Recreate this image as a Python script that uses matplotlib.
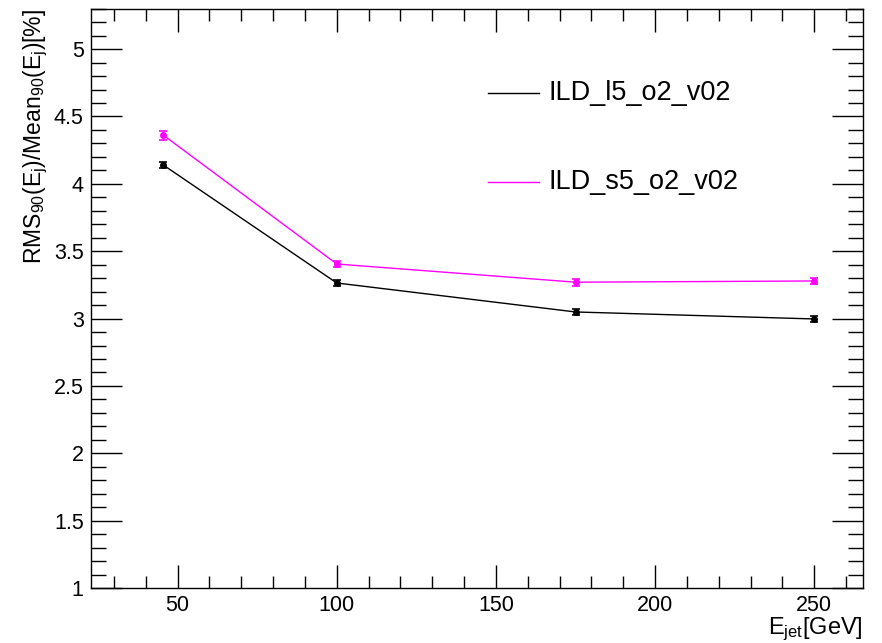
import matplotlib
matplotlib.use('Agg')
import matplotlib.pyplot as plt
from matplotlib.ticker import MultipleLocator

plt.rcParams['font.family'] = ['Liberation Sans', 'DejaVu Sans']
plt.rcParams['mathtext.fontset'] = 'custom'
plt.rcParams['mathtext.rm'] = 'Liberation Sans'
plt.rcParams['mathtext.it'] = 'Liberation Sans'

# jet energies and resolution for the two detector models
e_jet = [45.5, 100, 175, 250]
res_l5 = [4.14, 3.264, 3.049, 2.997]
err_l5 = [0.025, 0.025, 0.025, 0.022]
res_s5 = [4.362, 3.405, 3.27, 3.279]
err_s5 = [0.033, 0.025, 0.025, 0.025]
labels = ['ILD_l5_o2_v02', 'ILD_s5_o2_v02']
colors = ['black', '#ff00ff']

fig = plt.figure(figsize=(8.82, 6.43), dpi=100)
ax = fig.add_axes([0.1028, 0.0855, 0.8757, 0.901])

for y, e, c in [(res_l5, err_l5, colors[0]), (res_s5, err_s5, colors[1])]:
    ax.errorbar(e_jet, y, yerr=e, color=c, lw=1.0, marker='o', ms=4,
                capsize=3, capthick=1.2, elinewidth=1.0)

ax.set_xlim(22.7, 265.3)
ax.set_ylim(1, 5.3)
ax.xaxis.set_major_locator(MultipleLocator(50))
ax.xaxis.set_minor_locator(MultipleLocator(10))
ax.yaxis.set_major_locator(MultipleLocator(0.5))
ax.yaxis.set_minor_locator(MultipleLocator(0.1))
ax.set_yticks([1, 1.5, 2, 2.5, 3, 3.5, 4, 4.5, 5])
ax.set_yticklabels(['1', '1.5', '2', '2.5', '3', '3.5', '4', '4.5', '5'])

ax.tick_params(which='both', direction='in', top=True, right=True,
               labelsize=15.5, width=1.0)
ax.tick_params(axis='x', which='major', length=16.7, pad=5)
ax.tick_params(axis='x', which='minor', length=8.3)
ax.tick_params(axis='y', which='major', length=22, pad=5)
ax.tick_params(axis='y', which='minor', length=11)
for s in ax.spines.values():
    s.set_linewidth(1.0)

ax.set_xlabel(r'E$_{\mathrm{jet}}$[GeV]', fontsize=17, loc='right', labelpad=0)
ax.set_ylabel(r'RMS$_{90}$(E$_{\mathrm{j}}$)/Mean$_{90}$(E$_{\mathrm{j}}$)[%]',
              fontsize=16.5, loc='top', labelpad=3)

# legend drawn by hand: short line + name
for i, (lab, c) in enumerate(zip(labels, colors)):
    yy = 0.854 - i * 0.153
    ax.plot([0.515, 0.580], [yy, yy], color=c, lw=1.0, transform=ax.transAxes)
    ax.text(0.593, yy, lab, fontsize=19.5, va='center', ha='left',
            transform=ax.transAxes)

fig.savefig('out.png', dpi=100)
